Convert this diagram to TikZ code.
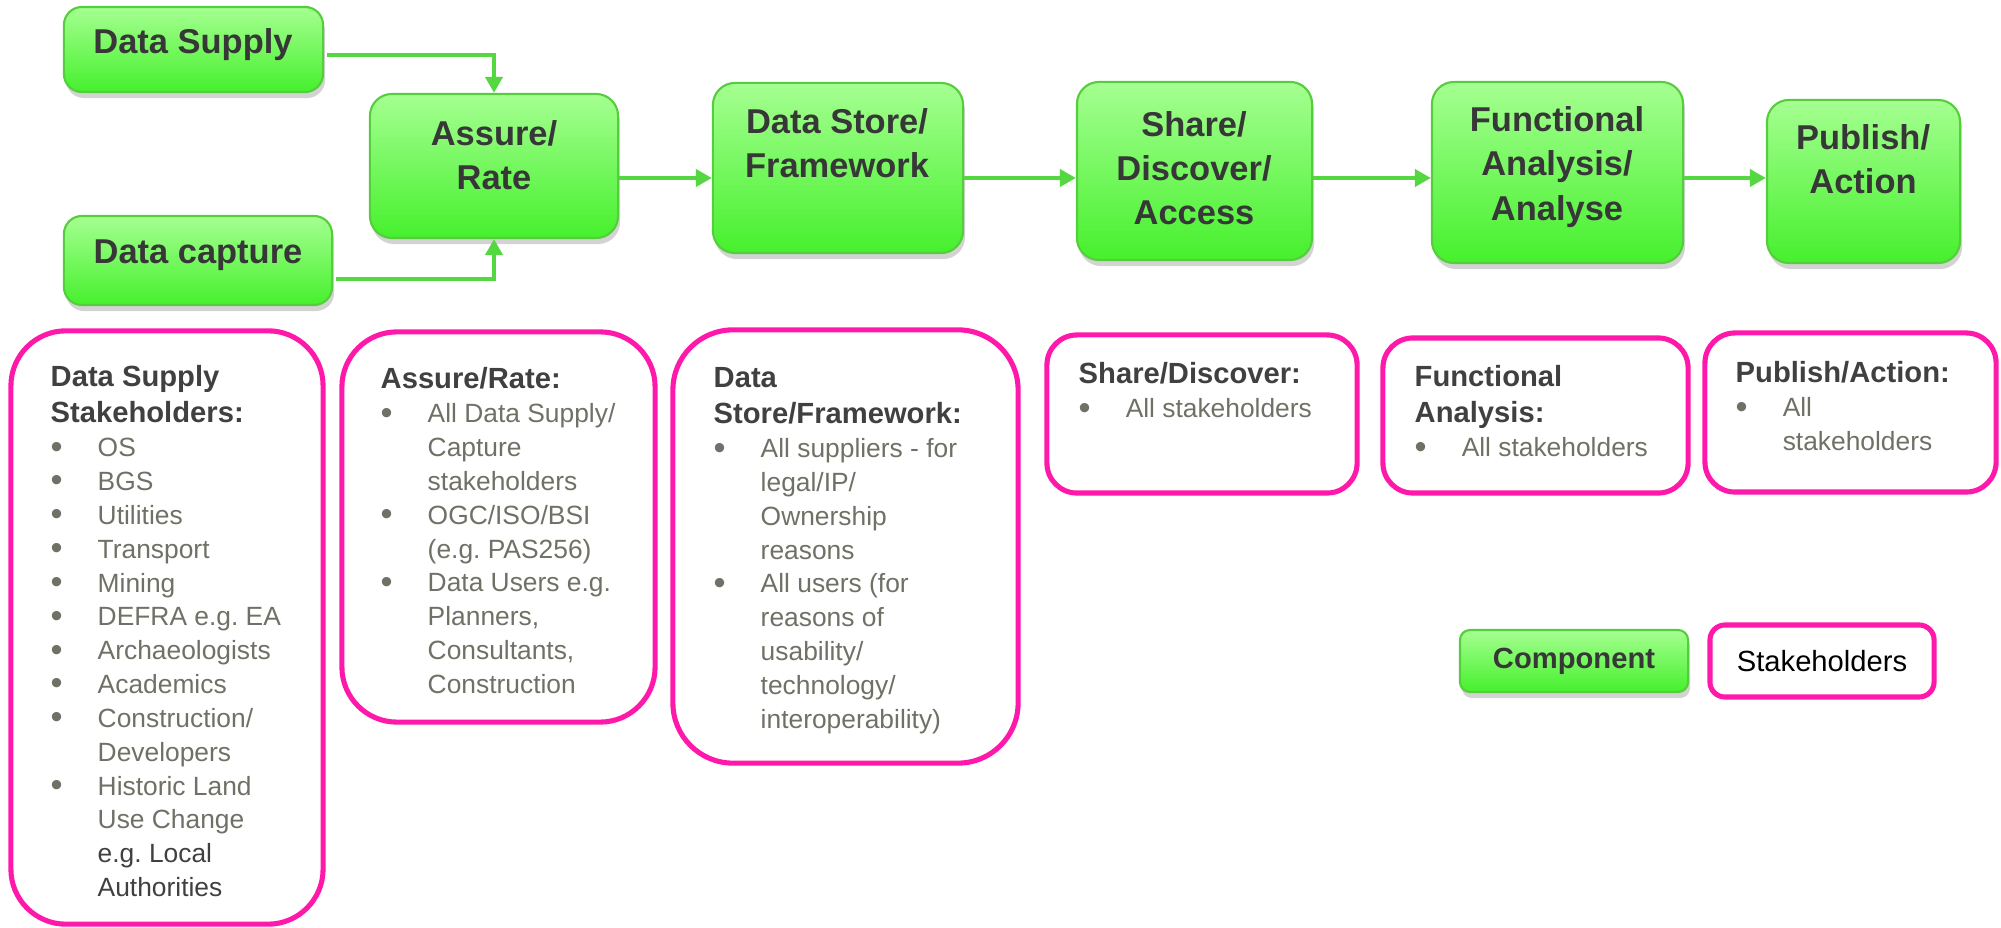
\documentclass[tikz,border=0pt]{standalone}
\usepackage{fontspec}
\setmainfont{Liberation Sans}
\usepackage{xcolor}
\usepackage{graphicx}
\usepackage{tikz}
\usetikzlibrary{arrows.meta,positioning,shadows}

\definecolor{gtop}{RGB}{165,255,145}
\definecolor{gbot}{RGB}{70,240,45}
\definecolor{gline}{RGB}{85,205,60}
\definecolor{garrow}{RGB}{85,215,65}
\definecolor{pinkline}{RGB}{255,25,170}
\definecolor{headgray}{RGB}{64,64,64}
\definecolor{itemgray}{RGB}{112,112,102}
\definecolor{titlegray}{RGB}{55,55,55}

\tikzset{comp/.style={draw=gline,line width=0.6pt,rounded corners=0.22cm,top color=gtop,bottom color=gbot,drop shadow={opacity=0.35,shadow xshift=0.02cm,shadow yshift=-0.06cm},inner sep=0pt}}
\tikzset{stake/.style={draw=pinkline,line width=1.45pt,inner sep=0pt}}

\newcommand{\hd}[1]{{\fontsize{8.3}{10.25}\selectfont\bfseries\color{headgray}\noindent#1\par}}
\newcommand{\itm}[1]{{\fontsize{7.5}{9.62}\selectfont\color{itemgray}\hangindent=0.47cm\hangafter=1\noindent\makebox[0.47cm][l]{\raisebox{-0.1ex}{\scalebox{1.3}{\textbullet}}}#1\par}}

\frenchspacing
\begin{document}
\begin{tikzpicture}[x=0.01cm, y=-0.01cm, >={Triangle[length=0.16cm,width=0.17cm]},
  flow/.style={->,draw=garrow,line width=0.04cm},
  title/.style={font=\fontsize{9.8}{12.6}\selectfont\bfseries,text=titlegray,align=center,inner sep=0pt},
  note/.style={anchor=north west,inner sep=0pt,text width=#1,align=flush left}]
\useasboundingbox (0,0) rectangle (2001,928);

% components
\node[comp, rounded corners=0.18cm, minimum width=2.59cm, minimum height=0.85cm] (supply) at (193.5,49.5) {};
\node[comp, rounded corners=0.18cm, minimum width=2.68cm, minimum height=0.89cm] (capture) at (198,260.5) {};
\node[comp, minimum width=2.48cm, minimum height=1.44cm] (assure) at (494,166) {};
\node[comp, minimum width=2.50cm, minimum height=1.70cm] (store) at (838,168) {};
\node[comp, minimum width=2.35cm, minimum height=1.78cm] (share) at (1194.5,171) {};
\node[comp, minimum width=2.51cm, minimum height=1.81cm] (func) at (1557.5,172.5) {};
\node[comp, minimum width=1.93cm, minimum height=1.63cm] (publish) at (1863.5,181.5) {};

\node[title] (supplytxt) at (193,45) {Data Supply};
\node[title] (capturetxt) at (198,255) {Data capture};
\node[title] (assuretxt) at (494,155) {Assure/\\Rate};
\node[title] (storetxt) at (837,143) {Data Store/\\Framework};
\node[title] (sharetxt) at (1194,168) {Share/\\Discover/\\Access};
\node[title] (functxt) at (1557,167) {Functional\\Analysis/\\Analyse};
\node[title] (publishtxt) at (1863,159) {Publish/\\Action};

% flow
\coordinate (hi) at (0,55);
\coordinate (lo) at (0,279);
\coordinate (row) at (0,178);
\draw[flow] ([xshift=0.03cm]supply.east |- hi) -| (assure.north);
\draw[flow] ([xshift=0.03cm]capture.east |- lo) -| (assure.south);
\draw[flow] (assure.east |- row) -- (store.west |- row);
\draw[flow] (store.east |- row) -- (share.west |- row);
\draw[flow] (share.east |- row) -- (func.west |- row);
\draw[flow] (func.east |- row) -- (publish.west |- row);

% stakeholders
\node[stake, rounded corners=0.55cm, minimum width=3.12cm, minimum height=5.93cm] (supplyst) at (167,627.5) {};
\node[stake, rounded corners=0.55cm, minimum width=3.13cm, minimum height=3.90cm] (assurest) at (498.5,527) {};
\node[stake, rounded corners=0.6cm, minimum width=3.45cm, minimum height=4.33cm] (storest) at (845.5,546.5) {};
\node[stake, rounded corners=0.3cm, minimum width=3.10cm, minimum height=1.58cm] (sharest) at (1202,414) {};
\node[stake, rounded corners=0.3cm, minimum width=3.05cm, minimum height=1.55cm] (funcst) at (1535.5,415.5) {};
\node[stake, rounded corners=0.3cm, minimum width=2.91cm, minimum height=1.59cm] (publishst) at (1850.5,412.5) {};

\node[note=2.7cm] (supplylist) at (50,365) {\hd{Data Supply\newline Stakeholders:}
  \itm{OS}\itm{BGS}\itm{Utilities}\itm{Transport}\itm{Mining}\itm{DEFRA e.g. EA}
  \itm{Archaeologists}\itm{Academics}\itm{Construction/\newline Developers}
  \itm{Historic Land\newline Use Change\newline {\color{headgray}e.g. Local\newline Authorities}}};
\node[note=2.7cm] (assurelist) at (380,367) {\hd{Assure/Rate:}
  \itm{All Data Supply/\newline Capture\newline stakeholders}
  \itm{OGC/ISO/BSI\newline (e.g. PAS256)}
  \itm{Data Users e.g.\newline Planners,\newline Consultants,\newline Construction}};
\node[note=2.9cm] (storelist) at (713,367) {\hd{Data\newline Store/Framework:}
  \itm{All suppliers - for\newline legal/IP/\newline Ownership\newline reasons}
  \itm{All users (for\newline reasons of\newline usability/\newline technology/\newline interoperability)}};
\node[note=2.7cm] (sharelist) at (1078,362) {\hd{Share/Discover:}\itm{All stakeholders}};
\node[note=2.6cm] (funclist) at (1414,365) {\hd{Functional\newline Analysis:}\itm{All stakeholders}};
\node[note=2.5cm] (publishlist) at (1735,361) {\hd{Publish/Action:}\itm{All\newline stakeholders}};

% key
\node[comp, rounded corners=0.1cm, minimum width=2.28cm, minimum height=0.62cm, text=titlegray, font=\fontsize{8.3}{10}\selectfont\bfseries] (keycomp) at (1574,661) {Component};
\node[stake, rounded corners=0.15cm, minimum width=2.24cm, minimum height=0.72cm, font=\fontsize{8.3}{10}\selectfont] (keystake) at (1822,661) {Stakeholders};
\end{tikzpicture}
\end{document}
